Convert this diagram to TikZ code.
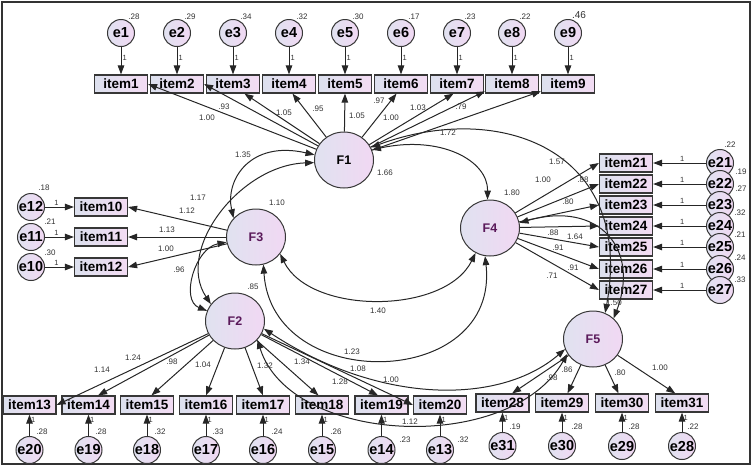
\documentclass[tikz,border=0pt]{standalone}
\usepackage{fontspec}
\setmainfont{Liberation Sans}
\usetikzlibrary{arrows.meta,shapes.geometric}
\definecolor{boxl}{RGB}{220,224,238}
\definecolor{boxr}{RGB}{243,220,243}
\definecolor{latl}{RGB}{224,226,240}
\definecolor{latr}{RGB}{241,216,243}
\definecolor{edgec}{RGB}{55,55,55}
\definecolor{numc}{RGB}{50,50,50}
\definecolor{fpurple}{RGB}{90,25,90}

\tikzset{
  obs/.style={draw=edgec,line width=1.2pt,left color=boxl,right color=boxr,
    minimum width=53pt,minimum height=18pt,inner sep=0pt,
    font=\fontsize{13.5}{13}\selectfont\bfseries},
  err/.style={circle,draw=edgec,line width=1pt,left color=latl,right color=latr,
    minimum size=27pt,inner sep=0pt,font=\fontsize{14.5}{13}\selectfont\bfseries},
  lat/.style={ellipse,draw=edgec,line width=1pt,left color=latl,right color=latr,
    minimum width=59pt,minimum height=56pt,inner sep=0pt,
    font=\fontsize{12.5}{13}\selectfont\bfseries,text=fpurple},
  num/.style={font=\fontsize{8}{8}\selectfont,text=numc,inner sep=0pt},
  one/.style={font=\fontsize{7.5}{8}\selectfont,text=numc,inner sep=1pt},
  load/.style={-{Triangle[length=9pt,width=6.5pt]},line width=1pt,draw=black!85},
  cov/.style={{Triangle[length=9pt,width=6.5pt]}-{Triangle[length=9pt,width=6.5pt]},
    line width=1pt,draw=black!85},
}

\begin{document}
\begin{tikzpicture}[x=1pt,y=-1pt]
\useasboundingbox (0,0) rectangle (753,467);
\draw[line width=1.3pt,black!80] (2,2) rectangle (750,464);

% factors
\node[lat,text=black] (F1) at (344,160) {F1};
\node[lat] (F3) at (256,237) {F3};
\node[lat] (F4) at (490,228) {F4};
\node[lat] (F2) at (235,321) {F2};
\node[lat] (F5) at (593,339) {F5};

% top row
\foreach \i/\x/\w in {1/121/.28,2/177/.29,3/233/.34,4/289/.32,5/345/.30,
                      6/401/.17,7/457/.23,8/512/.22}{
  \node[err] (e\i) at (\x,33) {e\i};
  \node[obs] (item\i) at (\x,84) {item\i};
  \draw[load] (e\i) -- node[one,right,pos=.4]{1} (item\i);
  \node[num] (ve\i) at (\x+13,17) {\w};
}
\node[err] (e9) at (568,33) {e9};
\node[obs] (item9) at (568,84) {item9};
\draw[load] (e9) -- node[one,right,pos=.4]{1} (item9);
\node[num,font=\fontsize{10}{10}\selectfont] (ve9) at (579,15) {.46};

% left rows
\foreach \i/\j/\y/\w/\vx/\vy in {12/10/207/.18/44/188,11/11/237/.21/50/222,
                                 10/12/267/.30/50/253}{
  \node[err] (e\i) at (31,\y) {e\i};
  \node[obs] (item\j) at (101,\y) {item\j};
  \draw[load] (e\i) -- node[one,above,pos=.4]{1} (item\j);
  \node[num] (ve\i) at (\vx,\vy) {\w};
}

% right rows
\foreach \i/\y/\w/\vx/\vy in {21/163/.22/730/145,22/184/.19/741/172,
    23/205/.27/741/189,24/226/.32/740/213,25/247/.21/740/235,
    26/269/.24/740/258,27/290/.33/740/280}{
  \node[err] (e\i) at (720,\y) {e\i};
  \node[obs] (item\i) at (626,\y) {item\i};
  \draw[load] (e\i) -- node[one,above,pos=.45]{1} (item\i);
  \node[num] (ve\i) at (\vx,\vy) {\w};
}

% bottom row
\foreach \j/\i/\x/\y/\ey/\w/\vx/\vy in {13/20/29.5/405/450/.28/42/432,
    14/19/88.5/405/450/.28/101/432,15/18/147/405/450/.32/160/432,
    16/17/206/405/450/.33/218/432,17/16/263/405/450/.24/277/432,
    18/15/322/405/450/.26/336/432,19/14/381.5/405/450/.23/405/440,
    20/13/440/405/450/.32/463/440,28/31/502.5/403/446/.19/515/427,
    29/30/562/403/446/.28/577/427,30/29/622/403/446/.28/634/427,
    31/28/682/403/446/.22/693/427}{
  \node[obs] (item\j) at (\x,\y) {item\j};
  \node[err] (e\i) at (\x,\ey) {e\i};
  \draw[load] (e\i) -- node[one,right,pos=.75]{1} (item\j);
  \node[num] (ve\i) at (\vx,\vy) {\w};
}

% loadings
\foreach \t in {item1.east,item2.east,item3.-40,item4.-70,item5.south,
                item6.-115,item7.-110,item8.195,item9.195}
  \draw[load] (F1) -- (\t);
\foreach \t in {item10.east,item11.east,item12.east}
  \draw[load] (F3) -- (\t);
\foreach \t in {item13.east,item14.45,item15.65,item16.north,item17.north,
                item18.110,item19.110,item20.west}
  \draw[load] (F2) -- (\t);
\foreach \t in {item21.west,item22.west,item23.west,item24.west,item25.west,
                item26.west,item27.west}
  \draw[load] (F4) -- (\t);
\foreach \t in {item28.45,item29.60,item30.110,item31.125}
  \draw[load] (F5) -- (\t);

% covariances
\draw[cov] (F1.170) .. controls (250,140) and (225,180) .. (F3.140);
\draw[cov] (F1.185) .. controls (240,165) and (175,250) .. (F2.145);
\draw[cov] (F3.190) .. controls (195,248) and (180,300) .. (F2.160);
\draw[cov] (F1.20) .. controls (440,135) and (488,160) .. (F4.95);
\draw[cov] (F1.25) .. controls (500,100) and (635,150) .. (F5.65);
\draw[cov] (F4.10) .. controls (600,200) and (640,250) .. (F5.45);
\draw[cov] (F3.-35) .. controls (310,315) and (445,315) .. (F4.-120);
\draw[cov] (F3.-75) .. controls (272,395) and (500,390) .. (F4.-100);
\draw[cov] (F2.-15) .. controls (380,405) and (500,405) .. (F5.200);
\draw[cov] (F2.-40) .. controls (290,445) and (510,455) .. (F5.210);

% estimates
\foreach \t/\x/\y [count=\k] in {1.00/207/118,.93/224/107,1.05/284/113,.95/318/109,
    1.05/357/116,.97/379/101,1.00/391/118,1.03/418/108,.79/461/107,
    1.12/187/211,1.13/167/230,1.00/166/249,
    1.14/102/370,1.24/133/358,.98/172/362,1.04/203/365,1.32/265/366,
    1.34/302/362,1.08/358/369,1.00/391/380,
    1.00/543/180,.88/583/180,.80/568/202,.88/553/233,.91/558/248,.91/573/268,.71/552/276,
    .98/552/378,.86/567/370,.80/620/373,1.00/660/368,
    1.35/243/155,1.17/198/198,.96/179/270,1.72/448/133,1.57/557/162,1.64/575/237,
    1.40/378/311,1.23/352/352,1.28/340/382,1.12/410/422,
    1.66/385/173,1.10/277/203,1.80/512/193,.85/253/287,1.50/614/303}
  \node[num] (est\k) at (\x,\y) {\t};
\end{tikzpicture}
\end{document}
